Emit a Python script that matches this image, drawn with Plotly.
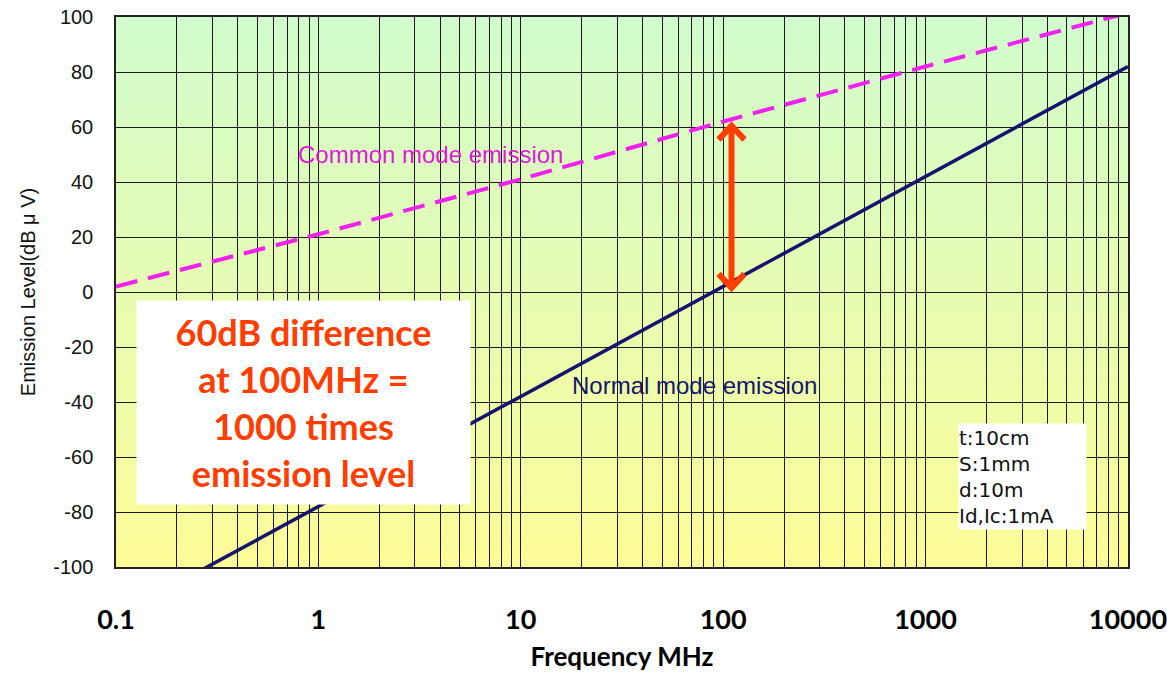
import numpy as np
import plotly.graph_objects as go

# Frequency points (MHz) and emission levels (dBuV)
freq_mhz = [0.1, 1, 10, 100, 1000, 10000]
common_mode_db = [2, 21, 41, 62, 82, 101.5]
normal_mode_db = [-118, -78, -38, 2, 42, 82]

# Axis ticks
decades = [0.1, 1, 10, 100, 1000, 10000]
decade_labels = ["0.1", "1", "10", "100", "1000", "10000"]
y_ticks = list(range(-100, 101, 20))
y_tick_labels = [str(v) for v in y_ticks]

# Arrow marking the gap at 100 MHz
arrow_freq = 110
arrow_top = common_mode_db[3] - 1.5
arrow_bottom = normal_mode_db[3] - 0.5

# every 1..9 x decade gets a grid line, only decades are labelled
grid_vals, grid_text = [], []
for d, lab in zip(decades[:-1], decade_labels[:-1]):
    for k in range(1, 10):
        grid_vals.append(d * k)
        grid_text.append(lab if k == 1 else "")
grid_vals.append(decades[-1])
grid_text.append(decade_labels[-1])

fig = go.Figure()

fig.add_trace(go.Scatter(
    x=freq_mhz, y=common_mode_db, mode="lines",
    line=dict(color="#ee22ee", width=4, dash="22px,11px"),
    hoverinfo="skip", showlegend=False,
))
fig.add_trace(go.Scatter(
    x=freq_mhz, y=normal_mode_db, mode="lines",
    line=dict(color="#14146e", width=3.5),
    hoverinfo="skip", showlegend=False,
))

shapes = []
# green-to-yellow background of the plotting area
n_bands = 80
top_rgb = np.array([210, 252, 206])
bot_rgb = np.array([253, 253, 152])
for i in range(n_bands):
    t = (i + 0.5) / n_bands
    c = bot_rgb + (top_rgb - bot_rgb) * t
    shapes.append(dict(
        type="rect", xref="x domain", yref="y domain",
        x0=0, x1=1, y0=i / n_bands, y1=(i + 1) / n_bands + 0.002,
        fillcolor=f"rgb({int(c[0])},{int(c[1])},{int(c[2])})",
        line=dict(width=0), layer="below",
    ))

arrow_color = "#ff3d00"
shapes.append(dict(
    type="line", xref="x", yref="y",
    x0=arrow_freq, x1=arrow_freq, y0=arrow_bottom, y1=arrow_top,
    line=dict(color=arrow_color, width=6),
))
for y_tip, sgn in ((arrow_top, -1), (arrow_bottom, 1)):
    shapes.append(dict(
        type="path", xref="x", yref="y",
        xsizemode="pixel", ysizemode="pixel",
        xanchor=arrow_freq, yanchor=y_tip,
        path=f"M -13,{14 * sgn} L 0,0 L 13,{14 * sgn}",
        line=dict(color=arrow_color, width=6),
    ))

annotations = [
    dict(text="Common mode emission", x=np.log10(3.6), y=50,
         xref="x", yref="y", showarrow=False,
         font=dict(family="Liberation Sans, Arial", size=24, color="#dd18dd")),
    dict(text="Normal mode emission", x=np.log10(72), y=-34,
         xref="x", yref="y", showarrow=False,
         font=dict(family="Liberation Sans, Arial", size=24, color="#14146e")),
    dict(text="60dB difference<br>at 100MHz =<br>1000 times<br>emission level",
         xref="paper", yref="paper", x=0.0198, y=0.4855,
         xanchor="left", yanchor="top", width=333, height=203,
         showarrow=False, bgcolor="white", borderpad=0, align="center",
         font=dict(family="Lato", size=36, color=arrow_color, weight="bold")),
    dict(text="t:10cm<br>S:1mm<br>d:10m<br>Id,Ic:1mA",
         xref="paper", yref="paper", x=0.832, y=0.262,
         xanchor="left", yanchor="top", width=127, height=105,
         showarrow=False, bgcolor="white", borderpad=0, align="left",
         font=dict(family="DejaVu Sans", size=20, color="#111111")),
]

fig.update_layout(
    width=1167, height=673,
    margin=dict(l=116, r=39, t=17, b=106),
    paper_bgcolor="white", plot_bgcolor="rgba(0,0,0,0)",
    shapes=shapes, annotations=annotations,
    xaxis=dict(
        type="log", range=[-1, 4.0005], tickvals=grid_vals, ticktext=grid_text,
        showgrid=True, gridcolor="#1a1a1a", gridwidth=1.3,
        showline=True, linecolor="#222222", linewidth=1.5, mirror=True,
        ticks="", ticklabelstandoff=28, ticklabeloverflow="allow",
        tickfont=dict(family="Lato", size=27, color="black", weight="bold"),
        title=dict(text="Frequency MHz", standoff=14,
                   font=dict(family="Lato", size=26, color="black", weight="bold")),
        zeroline=False, automargin=False,
    ),
    yaxis=dict(
        range=[-100, 100], tickvals=y_ticks, ticktext=y_tick_labels,
        showgrid=True, gridcolor="#1a1a1a", gridwidth=1.3,
        showline=True, linecolor="#222222", linewidth=1.5, mirror=True,
        ticks="", ticklabelstandoff=17,
        tickfont=dict(family="Liberation Sans, Arial", size=20, color="#111111"),
        title=dict(text="Emission Level(dB μ V)", standoff=12,
                   font=dict(family="Liberation Sans, Arial", size=20, color="#111111")),
        zeroline=False, automargin=False,
    ),
)

fig.write_html("out.html")
